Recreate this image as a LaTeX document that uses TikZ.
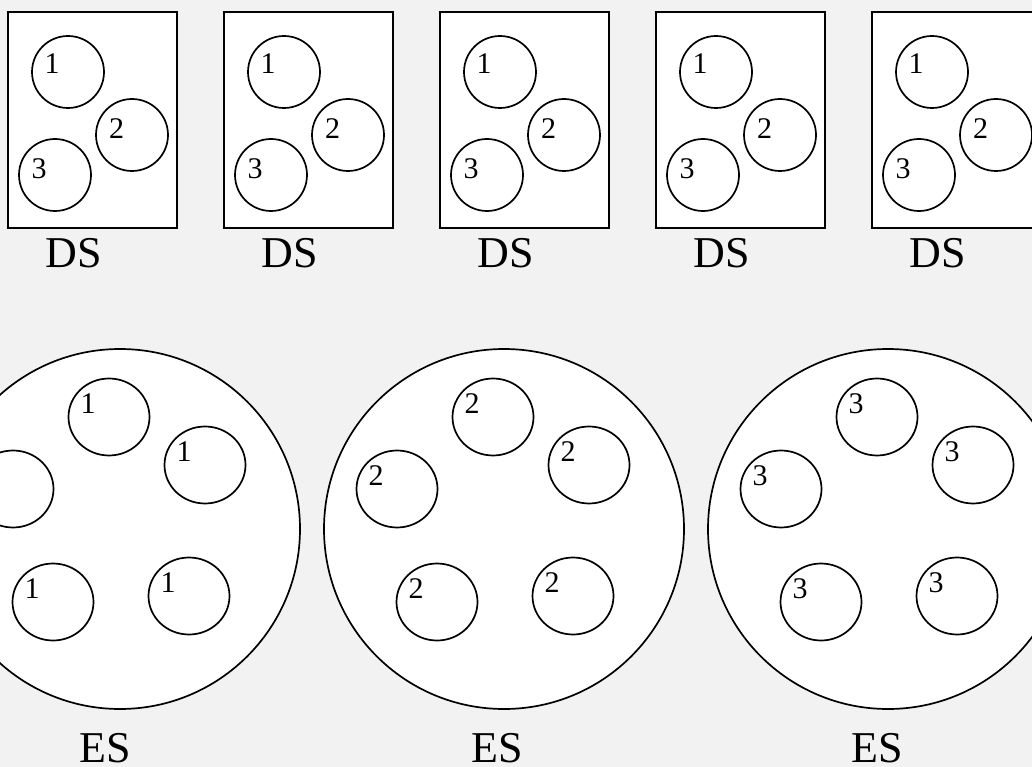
\documentclass[tikz,border=0pt]{standalone}
\usepackage{fontspec}
\setmainfont{Liberation Serif}
\usetikzlibrary{shapes.geometric}
\definecolor{bgc}{HTML}{F2F2F2}
\tikzset{
  outl/.style={draw=black, line width=1.7pt, fill=white},
  dsbox/.style={outl, rectangle, minimum width=169pt, minimum height=216pt, inner sep=0pt},
  dscirc/.style={outl, circle, minimum size=72pt, inner sep=0pt},
  esbig/.style={outl, circle, minimum size=360pt, inner sep=0pt},
  essmall/.style={outl, ellipse, minimum width=81pt, minimum height=77pt, inner sep=0pt},
  num/.style={font=\fontsize{30}{30}\selectfont, inner sep=0pt, anchor=base},
  captxt/.style={font=\fontsize{44}{44}\selectfont, inner sep=0pt, text depth=0pt, anchor=base},
}
\begin{document}
\begin{tikzpicture}[x=1pt,y=-1pt]
\useasboundingbox (0,0) rectangle (1032,767);
\fill[bgc] (0,0) rectangle (1032,767);
\clip (0,0) rectangle (1032,767);
% DS boxes
\foreach \i in {0,...,4}{
  \begin{scope}[shift={(216*\i,0)}]
    \node[dsbox]  (box\i) at (92.5,120) {};
    \node[dscirc] (ca\i) at (68,72) {};
    \node[dscirc] (cb\i) at (132,135) {};
    \node[dscirc] (cc\i) at (55,175) {};
    \node[num] (la\i) at (52,74) {1};
    \node[num] (lb\i) at (116.5,139) {2};
    \node[num] (lc\i) at (39,179) {3};
    \node[captxt] (ds\i) at (74,267) {DS};
  \end{scope}
}
% ES circles
\foreach \j/\n/\lx in {0/1/105.5,1/2/497.5,2/3/877.5}{
  \begin{scope}[shift={(384*\j,0)}]
    \node[esbig] (es\j) at (120,529) {};
    \foreach \k/\px/\py in {t/109/417,r/205/465,l/13/489,bl/53/602,br/189/596}{
      \node[essmall] (e\j\k) at (\px,\py) {};
    }
    \foreach \k in {t,r,bl,br}{
      \node[num] (n\j\k) at ([xshift=-21pt,yshift=4pt]e\j\k.center) {\n};
    }
    \ifnum\j>0
      \node[num] (n\j l) at ([xshift=-21pt,yshift=4pt]e\j l.center) {\n};
    \fi
  \end{scope}
  \node[captxt] (esl\j) at (\lx,762) {ES};
}
\end{tikzpicture}
\end{document}
